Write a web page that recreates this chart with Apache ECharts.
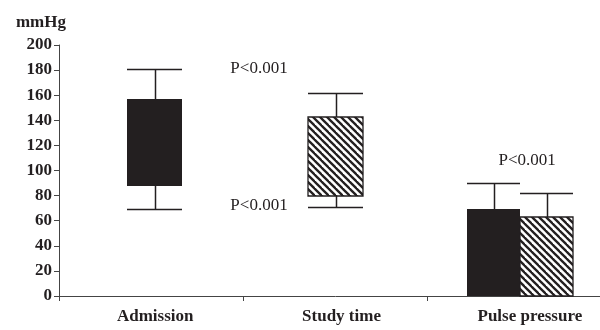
<!DOCTYPE html>
<html>
<head>
<meta charset="utf-8">
<script src="https://cdn.jsdelivr.net/npm/echarts@6/dist/echarts.min.js"></script>
<style>
html,body{margin:0;padding:0;background:#fff;overflow:hidden;width:600px;height:330px;}
#chart{width:612px;height:330px;}
</style>
</head>
<body>
<div id="chart"></div>
<script>
// ---- data ----
const categories = ['Admission', 'Study time', 'Pulse pressure'];
const yMin = 0, yMax = 200, yStep = 20;
// [lower whisker, box bottom, box top, upper whisker]
const admissionBox = [69, 88, 157, 181];
const studyTimeBox = [71, 80, 143, 162];
// [bar value, upper whisker]
const pulseAdmission = [69, 90];
const pulseStudyTime = [63, 82];
// annotations
const pTexts = ['P<0.001', 'P<0.001', 'P<0.001'];
const pCats = [0.585, 0.585, 2.04];
const pValues = [181, 72, 108];

// ---- hatch pattern ----
function makeHatch() {
  const s = 7;
  const c = document.createElement('canvas');
  c.width = s; c.height = s;
  const ctx = c.getContext('2d');
  ctx.fillStyle = '#fff';
  ctx.fillRect(0, 0, s, s);
  ctx.strokeStyle = '#231f20';
  ctx.lineWidth = 2.3;
  for (let k = -1; k <= 1; k++) {
    ctx.beginPath();
    ctx.moveTo(k * s - 1, -1);
    ctx.lineTo(k * s + s + 1, s + 1);
    ctx.stroke();
  }
  return c;
}
const hatch = { image: makeHatch(), repeat: 'repeat' };

const INK = '#231f20';
const serif = '"Liberation Serif", "DejaVu Serif", serif';

function catX(api, cat) {
  const base = Math.floor(cat);
  const band = api.size([1, 0])[0];
  return api.coord([base, 0])[0] + (cat - base) * band;
}

function boxRenderer(fill, stroke, side, shift) {
  return function (params, api) {
    const cat = api.value(0);
    const wl = api.value(1), lo = api.value(2), hi = api.value(3), wh = api.value(4);
    const band = api.size([1, 0])[0];
    const paired = cat === 2;
    const w = Math.round(band * (paired ? 0.285 : 0.3));
    const cx = catX(api, cat) + (paired ? side * w / 2 : shift);
    const x0 = Math.round(cx - w / 2);
    const xc = x0 + Math.round(w / 2) + 0.5;
    const yLo = Math.round(api.coord([cat, lo])[1]);
    const yHi = Math.round(api.coord([cat, hi])[1]);
    const yWh = Math.round(api.coord([cat, wh])[1]) + 0.5;
    const lineStyle = { stroke: INK, lineWidth: 1.5 };
    const children = [
      { type: 'line', shape: { x1: xc, y1: yHi, x2: xc, y2: yWh }, style: lineStyle },
      { type: 'line', shape: { x1: x0, y1: yWh, x2: x0 + w, y2: yWh }, style: lineStyle }
    ];
    if (wl < lo) {
      const yWl = Math.round(api.coord([cat, wl])[1]) + 0.5;
      children.push({ type: 'line', shape: { x1: xc, y1: yLo, x2: xc, y2: yWl }, style: lineStyle });
      children.push({ type: 'line', shape: { x1: x0, y1: yWl, x2: x0 + w, y2: yWl }, style: lineStyle });
    }
    children.push({
      type: 'rect',
      shape: { x: x0, y: yHi, width: w, height: yLo - yHi },
      style: { fill: fill, stroke: stroke, lineWidth: stroke ? 1.3 : 0 }
    });
    return { type: 'group', children: children };
  };
}

const blackData = [
  [0, admissionBox[0], admissionBox[1], admissionBox[2], admissionBox[3]],
  [2, 0, 0, pulseAdmission[0], pulseAdmission[1]]
];
const hatchData = [
  [1, studyTimeBox[0], studyTimeBox[1], studyTimeBox[2], studyTimeBox[3]],
  [2, 0, 0, pulseStudyTime[0], pulseStudyTime[1]]
];
const annData = pTexts.map((t, i) => [pCats[i], pValues[i], t]);

const labelPad = [8, 12, 20];

const chart = echarts.init(document.getElementById('chart'), null, { renderer: 'canvas' });
chart.setOption({
  animation: false,
  backgroundColor: '#fff',
  grid: { left: 59, right: 0, top: 45, bottom: 34, containLabel: false },
  xAxis: {
    type: 'category',
    data: categories,
    boundaryGap: true,
    axisLine: { lineStyle: { color: '#444', width: 1 } },
    axisTick: { show: true, length: 5, inside: false, alignWithLabel: false, lineStyle: { color: '#444' } },
    axisLabel: {
      margin: 12,
      interval: 0,
      formatter: function (v, i) { return '{c' + i + '|' + v + '}'; },
      rich: {
        c0: { fontFamily: serif, fontWeight: 'bold', fontSize: 17, color: INK, padding: [0, 0, 0, labelPad[0]] },
        c1: { fontFamily: serif, fontWeight: 'bold', fontSize: 17, color: INK, padding: [0, 0, 0, labelPad[1]] },
        c2: { fontFamily: serif, fontWeight: 'bold', fontSize: 17, color: INK, padding: [0, 0, 0, labelPad[2]] }
      }
    },
    splitLine: { show: false }
  },
  yAxis: {
    type: 'value',
    min: yMin, max: yMax, interval: yStep,
    name: 'mmHg',
    nameLocation: 'end',
    nameGap: 14,
    nameTextStyle: { fontFamily: serif, fontWeight: 'bold', fontSize: 17, color: INK, align: 'right', padding: [0, -7, 0, 0] },
    axisLine: { show: true, lineStyle: { color: '#444', width: 1 } },
    axisTick: { show: true, length: 5, lineStyle: { color: '#444' } },
    axisLabel: { margin: 7, fontFamily: serif, fontWeight: 'bold', fontSize: 17, color: INK },
    splitLine: { show: false }
  },
  series: [
    { type: 'custom', name: 'admission', renderItem: boxRenderer(INK, null, -1, 3), data: blackData, z: 3 },
    { type: 'custom', name: 'study', renderItem: boxRenderer(hatch, INK, 1, 0), data: hatchData, z: 3 },
    {
      type: 'custom', name: 'p', z: 4,
      renderItem: function (params, api) {
        const x = catX(api, api.value(0));
        const y = api.coord([0, api.value(1)])[1];
        return {
          type: 'text',
          style: {
            x: x, y: y, text: annData[params.dataIndex][2],
            fill: INK, font: '17px ' + serif, align: 'center', verticalAlign: 'middle'
          }
        };
      },
      data: annData.map(d => [d[0], d[1]])
    }
  ]
});
</script>
</body>
</html>
